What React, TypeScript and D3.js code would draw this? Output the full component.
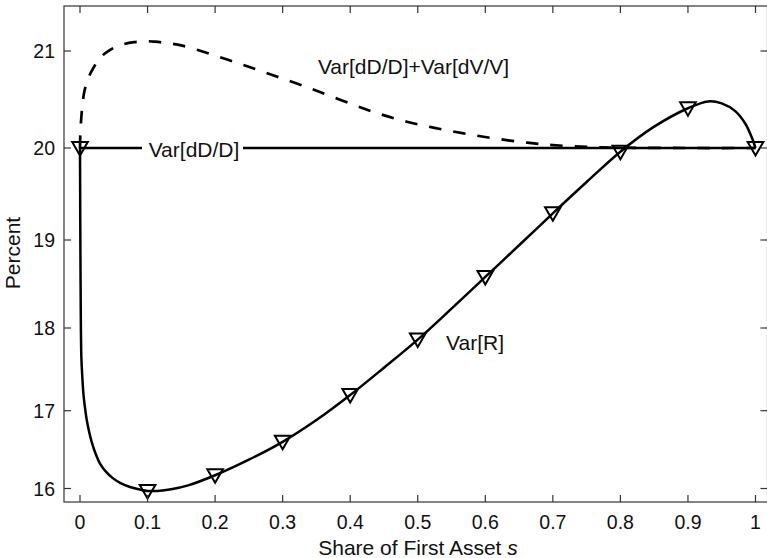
import * as d3 from "d3";

// Share of first asset s, markers every 0.1
const markerS = [0, 0.1, 0.2, 0.3, 0.4, 0.5, 0.6, 0.7, 0.8, 0.9, 1.0];
const markerVarR = [20.0, 15.97, 16.17, 16.6, 17.19, 17.86, 18.58, 19.29, 19.96, 20.41, 20.0];

// Var[R] curve
const varRS = [
  0, 0.0008, 0.002, 0.0035, 0.005, 0.0075, 0.01, 0.0135, 0.0173, 0.023, 0.0296, 0.038, 0.049,
  0.06, 0.074, 0.09, 0.1, 0.115, 0.135, 0.16, 0.2, 0.25, 0.3, 0.35, 0.4, 0.45, 0.5, 0.55, 0.6,
  0.65, 0.7, 0.75, 0.8, 0.85, 0.9, 0.93, 0.95, 0.97, 0.985, 0.995, 1.0,
];
const varRVals = [
  20.0, 18.6, 17.65, 17.4, 17.21, 17.03, 16.88, 16.73, 16.6, 16.45, 16.32, 16.22, 16.13, 16.07,
  16.02, 15.985, 15.97, 15.97, 15.99, 16.04, 16.17, 16.37, 16.6, 16.88, 17.19, 17.52, 17.86,
  18.22, 18.58, 18.94, 19.29, 19.63, 19.96, 20.22, 20.41, 20.48, 20.46, 20.38, 20.25, 20.1, 20.0,
];

// Var[dD/D] + Var[dV/V] (dashed)
const varSumS = [
  0, 0.0005, 0.002, 0.004, 0.007, 0.012, 0.017, 0.03, 0.044, 0.06, 0.08, 0.1, 0.111, 0.13, 0.151,
  0.185, 0.22, 0.254, 0.289, 0.323, 0.358, 0.405, 0.444, 0.484, 0.523, 0.568, 0.612, 0.662, 0.7,
  0.75, 0.8, 0.9, 1.0,
];
const varSumVals = [
  20.0, 20.15, 20.32, 20.47, 20.6, 20.71, 20.79, 20.93, 21.01, 21.06, 21.09, 21.1, 21.095, 21.08,
  21.055, 20.987, 20.907, 20.828, 20.742, 20.66, 20.57, 20.445, 20.35, 20.27, 20.21, 20.15, 20.1,
  20.055, 20.03, 20.012, 20.004, 20.0, 20.0,
];

// Var[dD/D] (flat)
const varDS = [0, 1];
const varDVals = [20, 20];

const xTicks = [0, 0.1, 0.2, 0.3, 0.4, 0.5, 0.6, 0.7, 0.8, 0.9, 1];
const xTickLabels = ["0", "0.1", "0.2", "0.3", "0.4", "0.5", "0.6", "0.7", "0.8", "0.9", "1"];
const yTicks = [16, 17, 18, 19, 20, 21];
const yTickLabels = ["16", "17", "18", "19", "20", "21"];

const W = 767;
const H = 558;
const FONT = "'Liberation Sans', Arial, Helvetica, sans-serif";

// the scanned axis is not evenly spaced, so calibrate on the tick marks
const x = d3.scaleLinear().domain([0, 1]).range([80, 755.5]);
const y = d3
  .scaleLinear()
  .domain([15.83, 16, 17, 18, 19, 20, 21, 21.46])
  .range([502, 488.5, 410.7, 328, 240, 148, 51, 6]);

const left = x(-0.0237);
const right = x(1.0178);
const top = y(21.46);
const bottom = y(15.83);

const line = d3
  .line<[number, number]>()
  .x((d) => x(d[0]))
  .y((d) => y(d[1]))
  .curve(d3.curveCatmullRom.alpha(0.5));

const zip = (a: number[], b: number[]) => a.map((v, i) => [v, b[i]] as [number, number]);

// downward triangle marker, like matlab's 'v'
const tri = "M-7.8,-6L7.8,-6L0,7.5Z";

export default function App() {
  const tickLen = 7;
  const axisColor = "#333";
  return (
    <div style={{ position: "fixed", left: 0, top: 0 }}>
      <svg width={W} height={H} style={{ display: "block", background: "#fff" }}>
        {/* curves */}
        <path d={line(zip(varDS, varDVals)) || ""} fill="none" stroke="#000" strokeWidth={2.4} />
        <path
          d={line(zip(varSumS, varSumVals)) || ""}
          fill="none"
          stroke="#000"
          strokeWidth={2.7}
          strokeDasharray="12.5,12"
        />
        <path d={line(zip(varRS, varRVals)) || ""} fill="none" stroke="#000" strokeWidth={2.5} />
        {markerS.map((s, i) => (
          <path
            key={i}
            d={tri}
            transform={`translate(${x(s)},${y(markerVarR[i])})`}
            fill="none"
            stroke="#000"
            strokeWidth={2}
          />
        ))}

        {/* labels */}
        <rect x={142} y={134} width={101} height={28} fill="#fff" />
        <text x={194} y={156.5} fontFamily={FONT} fontSize={21} textAnchor="middle" fill="#111">
          Var[dD/D]
        </text>
        <text x={413.5} y={73.5} fontFamily={FONT} fontSize={21} textAnchor="middle" fill="#111">
          Var[dD/D]+Var[dV/V]
        </text>
        <text x={475} y={350} fontFamily={FONT} fontSize={21} textAnchor="middle" fill="#111">
          Var[R]
        </text>

        {/* axes box */}
        <rect
          x={left}
          y={top}
          width={right - left}
          height={bottom - top}
          fill="none"
          stroke={axisColor}
          strokeWidth={1.2}
        />
        {xTicks.map((t, i) => (
          <g key={"x" + i}>
            <line x1={x(t)} x2={x(t)} y1={bottom} y2={bottom - tickLen} stroke={axisColor} strokeWidth={1.2} />
            <line x1={x(t)} x2={x(t)} y1={top} y2={top + tickLen} stroke={axisColor} strokeWidth={1.2} />
            <text x={x(t)} y={529} fontFamily={FONT} fontSize={19.5} textAnchor="middle" fill="#111">
              {xTickLabels[i]}
            </text>
          </g>
        ))}
        {yTicks.map((t, i) => (
          <g key={"y" + i}>
            <line x1={left} x2={left + tickLen} y1={y(t)} y2={y(t)} stroke={axisColor} strokeWidth={1.2} />
            <line x1={right} x2={right - tickLen} y1={y(t)} y2={y(t)} stroke={axisColor} strokeWidth={1.2} />
            <text x={55} y={y(t) + 7} fontFamily={FONT} fontSize={19.5} textAnchor="end" fill="#111">
              {yTickLabels[i]}
            </text>
          </g>
        ))}

        {/* axis titles */}
        <text x={418} y={555} fontFamily={FONT} fontSize={21} textAnchor="middle" fill="#111">
          Share of First Asset <tspan fontStyle="italic">s</tspan>
        </text>
        <text
          transform={`translate(20,253) rotate(-90)`}
          fontFamily={FONT}
          fontSize={21}
          textAnchor="middle"
          fill="#111"
        >
          Percent
        </text>
      </svg>
    </div>
  );
}
